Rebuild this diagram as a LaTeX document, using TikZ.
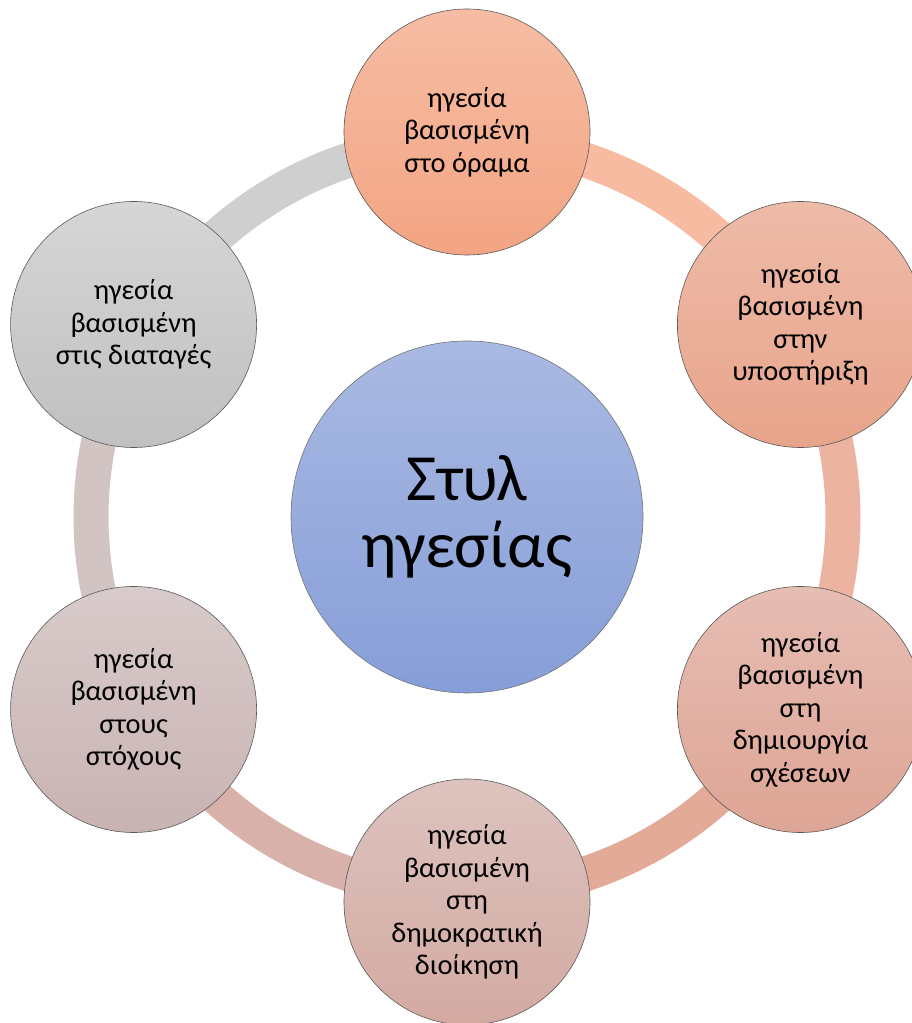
\documentclass[tikz,border=0pt]{standalone}
\usepackage{fontspec}
\setmainfont{Carlito}
\definecolor{ringTL}{HTML}{CFCFCF}
\definecolor{ringTR}{HTML}{F6BBA0}
\definecolor{ringR}{HTML}{ECB3A0}
\definecolor{ringBR}{HTML}{E3AA98}
\definecolor{ringBL}{HTML}{D8B1AA}
\definecolor{ringL}{HTML}{D2C4C3}
\definecolor{c1t}{HTML}{F6BDA4}\definecolor{c1b}{HTML}{F3A483}
\definecolor{c2t}{HTML}{EEBBA8}\definecolor{c2b}{HTML}{E8A48B}
\definecolor{c3t}{HTML}{E6BDB3}\definecolor{c3b}{HTML}{DEA595}
\definecolor{c4t}{HTML}{DDC3BF}\definecolor{c4b}{HTML}{D3AAA2}
\definecolor{c5t}{HTML}{D9CBCB}\definecolor{c5b}{HTML}{C8B3B2}
\definecolor{c6t}{HTML}{D6D6D6}\definecolor{c6b}{HTML}{C0C0C0}
\definecolor{cct}{HTML}{A9B9E2}\definecolor{ccb}{HTML}{869ED8}
\begin{document}
\begin{tikzpicture}[x=1pt,y=1pt,
  bub/.style={circle, draw=black!65, line width=0.6pt, minimum size=246pt,
    inner sep=0pt, align=center, text=black,
    font=\fontsize{28.5}{32.5}\selectfont},
  hub/.style={circle, draw=black!55, line width=0.6pt, minimum size=352pt,
    inner sep=0pt, align=center, text=black, top color=cct, bottom color=ccb,
    font=\fontsize{66}{67}\selectfont},
  ringseg/.style={line width=35pt}]
\useasboundingbox (0,0) rectangle (912,1023);
\coordinate (c) at (467,506);
\foreach \a/\col in {90/ringTL, 30/ringTR, -30/ringR, -90/ringBR, -150/ringBL, 150/ringL}
  \draw[ringseg, \col] ([shift={(\a:376)}]c) arc[start angle=\a, end angle=\a+60, radius=376];
\node[hub] (hub) at (c) {Στυλ\\ηγεσίας};
\node[bub, top color=c1t, bottom color=c1b] (n1) at ([shift={(90:385)}]c) {ηγεσία\\βασισμένη\\στο όραμα};
\node[bub, top color=c2t, bottom color=c2b] (n2) at ([shift={(30:385)}]c) {ηγεσία\\βασισμένη\\στην\\υποστήριξη};
\node[bub, top color=c3t, bottom color=c3b] (n3) at ([shift={(-30:385)}]c) {ηγεσία\\βασισμένη\\στη\\δημιουργία\\σχέσεων};
\node[bub, top color=c4t, bottom color=c4b] (n4) at ([shift={(-90:385)}]c) {ηγεσία\\βασισμένη\\στη\\δημοκρατική\\διοίκηση};
\node[bub, top color=c5t, bottom color=c5b] (n5) at ([shift={(-150:385)}]c) {ηγεσία\\βασισμένη\\στους\\στόχους};
\node[bub, top color=c6t, bottom color=c6b] (n6) at ([shift={(150:385)}]c) {ηγεσία\\βασισμένη\\στις διαταγές};
\end{tikzpicture}
\end{document}
